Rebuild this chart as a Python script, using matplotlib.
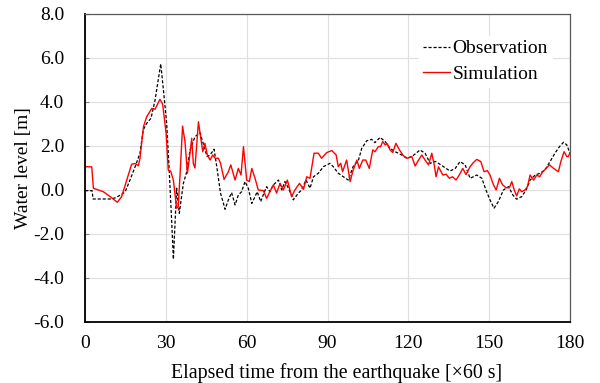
import matplotlib
matplotlib.use("Agg")
import matplotlib.pyplot as plt
import numpy as np

plt.rcParams['font.family'] = ['Liberation Serif', 'DejaVu Serif']

# observation (dashed black)
obs_t = [0, 2.6, 3.0, 9.3, 11.2, 13.6, 14.9, 16.7, 18.6, 20.4, 21.6, 22.9, 24.5, 26.0, 28.1,
         29.1, 30.3, 31.3, 32.2, 32.8, 34.0, 35.0, 36.5, 37.6, 39.0, 40.8, 42.7, 44.0, 45.3,
         46.4, 47.9, 48.9, 50.3, 52.0, 53.2, 54.4, 55.7, 56.9, 58.1, 59.4, 60.6, 61.9, 63.1,
         63.9, 65.2, 66.4, 67.4, 68.6, 69.9, 71.8, 73.0, 74.2, 75.5, 77.3, 79.2, 80.4, 82.0,
         83.5, 84.8, 86.6, 88.5, 90.9, 92.1, 94.0, 95.9, 97.7, 99.5, 101.5, 102.7, 104.6,
         106.4, 107.6, 109.5, 111.4, 113.2, 115.1, 117.5, 119.4, 121.3, 122.9, 124.3, 126.2,
         128.1, 130.0, 132.1, 134.0, 135.5, 137.4, 139.2, 141.1, 142.9, 144.1, 145.4, 147.3,
         148.8, 150.3, 151.8, 153.4, 155.3, 157.2, 158.8, 160.2, 162.1, 163.7, 165.2, 167.1,
         168.9, 170.7, 172.6, 174.4, 176.1, 177.6, 178.8, 180.0]
obs_v = [-0.03, -0.03, -0.41, -0.41, -0.36, -0.2, -0.08, 0.45, 1.06, 1.67, 2.73, 3.03, 3.26,
         4.09, 5.73, 4.55, 3.03, 0.76, -1.52, -3.15, 0.08, -1.06, 0.3, 0.76, 1.82, 2.42, 2.6,
         2.05, 1.52, 1.59, 1.85, 1.06, -0.15, -0.88, -0.45, -0.12, -0.68, -0.23, -0.08, 0.38,
         0.08, -0.61, -0.3, -0.08, -0.53, -0.14, 0.15, -0.08, 0.23, 0.45, 0.0, 0.38, 0.08,
         -0.45, -0.14, 0.0, 0.45, 0.08, 0.6, 0.76, 1.06, 1.21, 1.06, 0.76, 0.6, 0.45, 1.06,
         1.36, 1.89, 2.24, 2.3, 2.15, 2.39, 2.2, 1.89, 1.74, 1.59, 1.44, 1.52, 1.67, 1.82,
         1.67, 1.21, 1.3, 1.14, 0.98, 0.86, 0.98, 1.29, 1.14, 0.53, 0.6, 0.68, 0.53, 0.0,
         -0.45, -0.83, -0.53, 0.0, 0.15, -0.23, -0.42, -0.3, 0.0, 0.45, 0.68, 0.76, 0.91,
         1.29, 1.67, 1.97, 2.17, 2.05, 1.67]

# simulation (red)
sim_t = [0, 2.5, 3.1, 6.8, 9.3, 12.0, 13.6, 15.5, 17.3, 18.6, 19.8, 20.4, 21.7, 22.9, 24.8,
         26.0, 27.8, 28.8, 30.1, 30.9, 31.8, 32.8, 34.0, 34.6, 35.3, 36.2, 37.1, 38.0, 38.7,
         39.6, 40.2, 40.8, 42.1, 42.9, 43.7, 44.5, 45.4, 46.4, 47.4, 48.3, 49.5, 50.3, 51.6,
         53.2, 54.1, 55.7, 56.9, 57.9, 58.8, 60.0, 61.0, 61.9, 63.1, 64.3, 66.2, 67.4, 68.6,
         69.9, 71.1, 72.4, 73.6, 75.1, 76.7, 77.9, 79.6, 81.1, 82.3, 83.5, 85.0, 86.6, 87.8,
         89.7, 91.6, 93.2, 94.0, 94.9, 95.6, 97.1, 98.4, 99.5, 100.9, 101.8, 103.1, 104.2,
         105.5, 106.8, 107.6, 108.9, 109.7, 110.5, 111.4, 112.2, 113.2, 114.2, 115.4, 116.7,
         118.2, 119.7, 121.3, 122.5, 123.8, 125.0, 126.2, 127.5, 128.7, 129.5, 130.3, 131.2,
         132.8, 133.0, 134.0, 135.2, 136.4, 137.7, 138.9, 140.2, 141.4, 142.9, 144.1, 145.4,
         146.9, 148.1, 149.3, 150.3, 151.6, 152.6, 153.8, 155.0, 156.3, 157.5, 158.4, 159.3,
         160.2, 161.2, 162.1, 163.3, 164.2, 165.2, 166.5, 167.7, 168.7, 169.9, 171.1, 172.4,
         173.9, 175.7, 176.6, 177.8, 178.8, 179.4, 180.0]
sim_v = [1.06, 1.05, 0.08, -0.08, -0.3, -0.56, -0.3, 0.45, 1.17, 1.2, 1.1, 1.44, 2.88, 3.33,
         3.71, 3.67, 4.12, 3.9, 2.58, 0.9, 0.85, 0.45, -0.83, -0.75, 0.76, 2.9, 2.2, 0.76,
         1.4, 2.35, 1.2, 1.0, 3.1, 2.4, 1.74, 2.12, 1.59, 1.36, 1.59, 1.44, 1.44, 1.21, 0.48,
         0.83, 1.14, 0.45, 0.98, 0.68, 1.97, 0.45, 0.38, 0.98, 0.53, 0.0, -0.03, -0.38,
         -0.08, 0.23, -0.14, 0.3, 0.0, 0.45, -0.3, 0.0, 0.3, 0.03, 0.6, 0.53, 1.67, 1.67,
         1.44, 1.7, 1.79, 1.59, 1.06, 1.21, 0.83, 1.36, 0.38, 0.9, 1.36, 0.98, 1.36, 1.36,
         0.98, 1.82, 1.74, 1.97, 1.97, 2.2, 2.05, 2.1, 1.82, 1.7, 2.12, 1.82, 1.55, 1.44,
         1.52, 1.09, 1.36, 1.59, 1.36, 1.14, 1.67, 1.21, 0.6, 1.05, 0.68, 0.68, 0.72, 0.53,
         0.6, 0.45, 0.68, 0.98, 0.7, 1.06, 1.24, 1.39, 1.29, 0.83, 0.88, 0.68, 0.23, 0.0,
         0.53, 0.23, 0.1, 0.1, 0.38, 0.0, -0.27, 0.05, -0.08, 0.0, 0.15, 0.68, 0.45, 0.68,
         0.6, 0.83, 0.98, 1.14, 0.98, 0.83, 1.29, 1.74, 1.52, 1.52, 1.7]

fig = plt.figure(figsize=(6, 3.83), dpi=100)
ax = fig.add_axes([0.1417, 0.1593, 0.8083, 0.8043])

ax.plot(obs_t, obs_v, color="black", linestyle=(0, (2.5, 1.5)), linewidth=0.9, label="Observation")
ax.plot(sim_t, sim_v, color="#ff0000", linewidth=1.0, label="Simulation")

ax.set_xlim(0, 180)
ax.set_ylim(-6, 8)
ax.set_xticks(np.arange(0, 181, 30))
ax.set_yticks(np.arange(-6, 8.1, 2))
ax.set_yticklabels(["%.1f" % v for v in np.arange(-6, 8.1, 2)])
ax.grid(True, color="#e0e0e0", linewidth=0.9)
ax.set_axisbelow(True)
ax.tick_params(labelsize=14, length=3, direction="in", color="#888888", pad=15)
ax.tick_params(axis="x", length=0, pad=9.5)

for s in ["top", "right"]:
    ax.spines[s].set_color("#595959")
    ax.spines[s].set_linewidth(0.9)
for s in ["left", "bottom"]:
    ax.spines[s].set_color("black")
    ax.spines[s].set_linewidth(1.3)

ax.set_xlabel("Elapsed time from the earthquake [\u00d760 s]", fontsize=14.3, labelpad=8)
ax.xaxis.label.set_x(0.518)
ax.set_ylabel("Water level [m]", fontsize=14, labelpad=1)

leg = ax.legend(loc="upper right", bbox_to_anchor=(0.982, 0.96), frameon=True, fontsize=14,
                handlelength=1.4, handletextpad=0.1, labelspacing=0.4, borderpad=0.2)
leg.get_frame().set_edgecolor("white")
leg.get_frame().set_facecolor("white")
leg.get_frame().set_alpha(1)
leg.get_frame().set_boxstyle("square", pad=0)

fig.savefig("out.png", dpi=100)
